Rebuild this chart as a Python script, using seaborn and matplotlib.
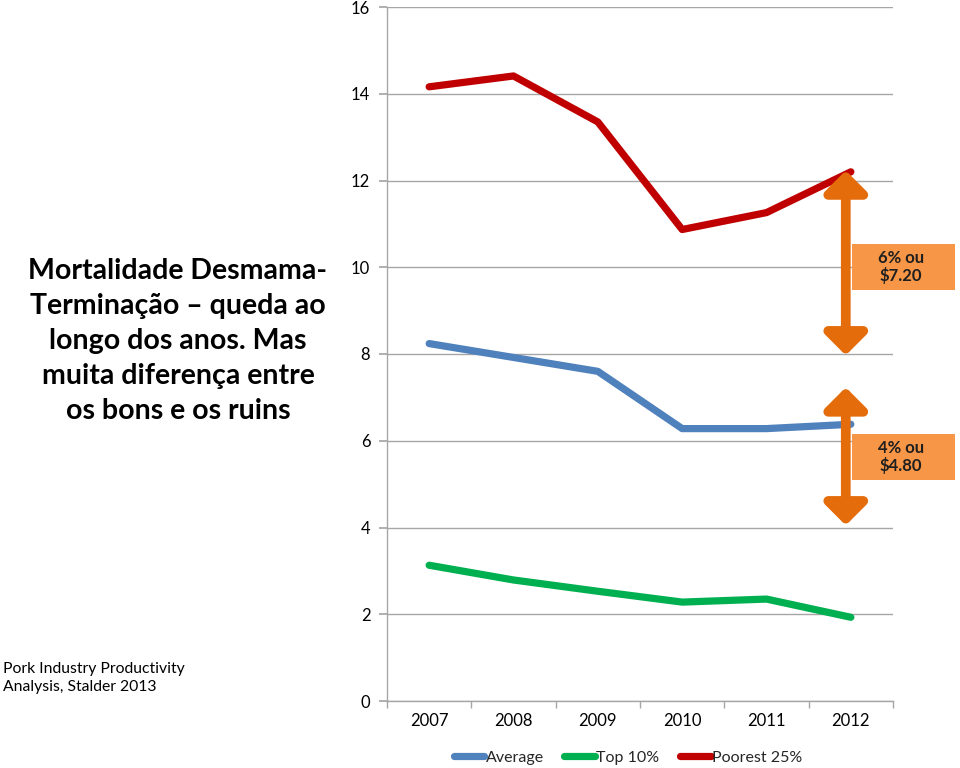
import matplotlib
matplotlib.use("Agg")
import matplotlib.pyplot as plt
import seaborn as sns
import pandas as pd
from matplotlib.patches import Rectangle, FancyArrowPatch
from matplotlib.ticker import FixedLocator, NullFormatter
from matplotlib.lines import Line2D

years = ["2007", "2008", "2009", "2010", "2011", "2012"]
average = [8.24, 7.92, 7.60, 6.28, 6.28, 6.38]
top10 = [3.13, 2.79, 2.53, 2.28, 2.35, 1.93]
poorest25 = [14.16, 14.41, 13.35, 10.87, 11.26, 12.20]
series_names = ["Average", "Top 10%", "Poorest 25%"]
colors = ["#4F81BD", "#00B050", "#C00000"]
y_ticks = [0, 2, 4, 6, 8, 10, 12, 14, 16]

title_text = "Mortalidade Desmama-\nTerminação – queda ao\nlongo dos anos. Mas\nmuita diferença entre\nos bons e os ruins"
source_text = "Pork Industry Productivity\nAnalysis, Stalder 2013"
box1_text = "6% ou\n$7.20"
box2_text = "4% ou\n$4.80"

df = pd.DataFrame({
    "year": years * 3,
    "value": average + top10 + poorest25,
    "series": [series_names[0]] * 6 + [series_names[1]] * 6 + [series_names[2]] * 6,
})

sns.set_theme(style="white")
plt.rcParams["font.family"] = ["Lato", "DejaVu Sans"]

fig = plt.figure(figsize=(9.6, 7.68), dpi=100)
ax = fig.add_axes([387 / 960, 1 - 701 / 768, (893 - 387) / 960, (701 - 7) / 768])

sns.lineplot(data=df, x="year", y="value", hue="series", palette=colors,
             hue_order=series_names, linewidth=5.2, ax=ax, legend=False,
             sort=False)
for line in ax.lines:
    line.set_solid_capstyle("round")

ax.set_xlim(-0.5, 5.5)
ax.set_ylim(0, 16)
ax.set_yticks(y_ticks)
ax.set_yticklabels([str(t) for t in y_ticks])
ax.set_xlabel("")
ax.set_ylabel("")
ax.yaxis.grid(True, color="#A6A6A6", linewidth=1.0)
ax.xaxis.grid(False)
ax.set_axisbelow(True)
for s in ["top", "right"]:
    ax.spines[s].set_visible(False)
for s in ["left", "bottom"]:
    ax.spines[s].set_color("#A6A6A6")
    ax.spines[s].set_linewidth(1.0)

ax.tick_params(axis="y", which="major", direction="out", length=6, color="#A6A6A6",
               labelsize=12, labelcolor="black", left=True, pad=6)
ax.tick_params(axis="x", which="major", length=0, labelsize=12, labelcolor="black", pad=9)
ax.xaxis.set_minor_locator(FixedLocator([i - 0.5 for i in range(7)]))
ax.xaxis.set_minor_formatter(NullFormatter())
ax.tick_params(axis="x", which="minor", direction="out", length=5, color="#A6A6A6", bottom=True)

# legend
handles = [Line2D([0], [0], color=c, lw=5.2, solid_capstyle="round") for c in colors]
fig.legend(handles, series_names, loc="center", bbox_to_anchor=(628 / 960, 1 - 758 / 768),
           ncol=3, frameon=False, fontsize=11.5, handlelength=1.9, handletextpad=0.1,
           columnspacing=1.3)

# arrows
arrow_color = "#E46C0A"
for (y0, y1) in [(12.23, 7.97), (7.23, 4.05)]:
    arr = FancyArrowPatch((4.94, y0), (4.94, y1), transform=ax.transData,
                          arrowstyle="<|-|>,head_length=0.9,head_width=0.9",
                          mutation_scale=14, color=arrow_color, lw=7,
                          shrinkA=0, shrinkB=0, clip_on=False, zorder=5)
    ax.add_patch(arr)

# boxes
for (ytop, ybot, txt) in [(244, 290, box1_text), (434, 480, box2_text)]:
    rect = Rectangle((852 / 960, 1 - ybot / 768), (955 - 852) / 960, (ybot - ytop) / 768,
                     transform=fig.transFigure, facecolor="#F79646", edgecolor="none", zorder=4)
    fig.patches.append(rect)
    fig.text(901 / 960, 1 - (ytop + ybot) / 2 / 768, txt, ha="center", va="center",
             fontsize=12, fontweight="bold", color="#1F1F1F", linespacing=1.1, zorder=6)

fig.text(178 / 960, 1 - 341 / 768, title_text, ha="center", va="center",
         fontsize=20.5, fontweight="bold", color="black", linespacing=1.42)
fig.text(3 / 960, 1 - 678 / 768, source_text, ha="left", va="center",
         fontsize=11.3, color="black", linespacing=1.3)

fig.savefig("out.png", dpi=100)
